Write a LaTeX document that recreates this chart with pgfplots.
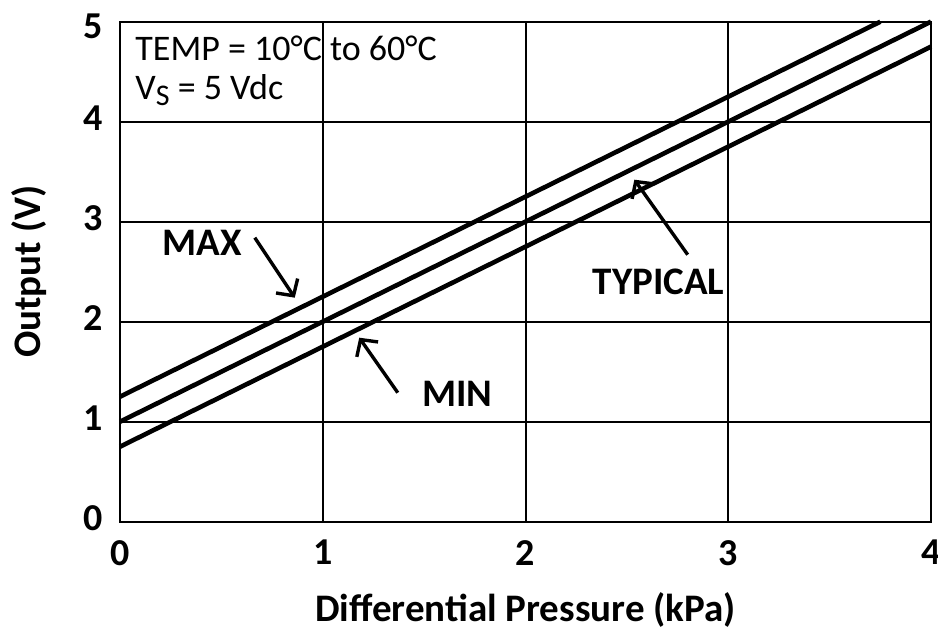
\documentclass[border=0pt]{standalone}
\usepackage{fontspec}
\setmainfont{Carlito}
\usepackage{pgfplots}
\pgfplotsset{compat=1.18}
\usetikzlibrary{arrows.meta}

\begin{document}
\begin{tikzpicture}
\begin{axis}[
  scale only axis,
  width=405.5pt, height=250pt,
  xmin=0, xmax=4, ymin=0, ymax=5,
  xtick={0,1,2,3,4}, ytick={0,1,2,3,4},
  extra y ticks={5},
  extra y tick style={yticklabel style={yshift=-4.5pt}},
  grid=major,
  major grid style={black, line width=1pt},
  axis line style={black, line width=1pt},
  major tick length=0pt,
  /pgf/number format/assume math mode=true,
  tick label style={font=\fontsize{19}{22}\selectfont\bfseries},
  xticklabel style={anchor=north, inner sep=0pt, yshift=-9pt},
  yticklabel style={anchor=east, inner sep=0pt, xshift=-8.5pt, yshift=2pt},
  xlabel={Differential Pressure (kPa)},
  ylabel={Output (V)},
  label style={font=\fontsize{19.5}{23}\selectfont\bfseries},
  xlabel style={at={(axis description cs:0.5,0)}, anchor=base, yshift=-50pt},
  % the y label is rotated, so its local y axis points to the left
  ylabel style={at={(axis description cs:0,0.5)}, anchor=base, yshift=39.5pt},
  clip=false,
]
  % output characteristics: typical, maximum and minimum
  \addplot[black, line width=2.3pt] coordinates {(0,1.00) (4.00,5.00)};
  \addplot[black, line width=2.3pt] coordinates {(0,1.25) (3.75,5.00)};
  \addplot[black, line width=2.3pt] coordinates {(0,0.75) (4.00,4.75)};

  % conditions
  \node[anchor=base west, inner sep=0pt, font=\fontsize{18}{22}\selectfont]
    at (axis cs:0.074,4.61) {TEMP = 10°C to 60°C};
  \node[anchor=base west, inner sep=0pt, font=\fontsize{18}{22}\selectfont]
    at (axis cs:0.074,4.22) {V\raisebox{-0.32ex}{\fontsize{15}{15}\selectfont S} = 5 Vdc};

  % curve annotations
  \node[anchor=base west, inner sep=0pt, font=\fontsize{19.5}{23}\selectfont\bfseries]
    at (axis cs:0.207,2.66) {MAX};
  \node[anchor=base west, inner sep=0pt, font=\fontsize{19.5}{23}\selectfont\bfseries]
    at (axis cs:2.33,2.27) {TYPICAL};
  \node[anchor=base west, inner sep=0pt, font=\fontsize{19.5}{23}\selectfont\bfseries]
    at (axis cs:1.49,1.15) {MIN};

  \tikzset{note arrow/.style={black, line width=1.7pt,
    -{Straight Barb[length=6pt, width=13pt, line width=1.7pt]}}}
  \draw[note arrow] (axis cs:0.665,2.84) -- (axis cs:0.862,2.24);
  \draw[note arrow] (axis cs:2.80,2.67) -- (axis cs:2.537,3.42);
  \draw[note arrow] (axis cs:1.37,1.29) -- (axis cs:1.18,1.84);

  \coordinate (sw) at (rel axis cs:0,0);
  \coordinate (ne) at (rel axis cs:1,1);
\end{axis}
\pgfresetboundingbox
\path[use as bounding box] ([shift={(-60pt,-54pt)}]sw) rectangle ([shift={(3.5pt,10.85pt)}]ne);
\end{tikzpicture}
\end{document}
